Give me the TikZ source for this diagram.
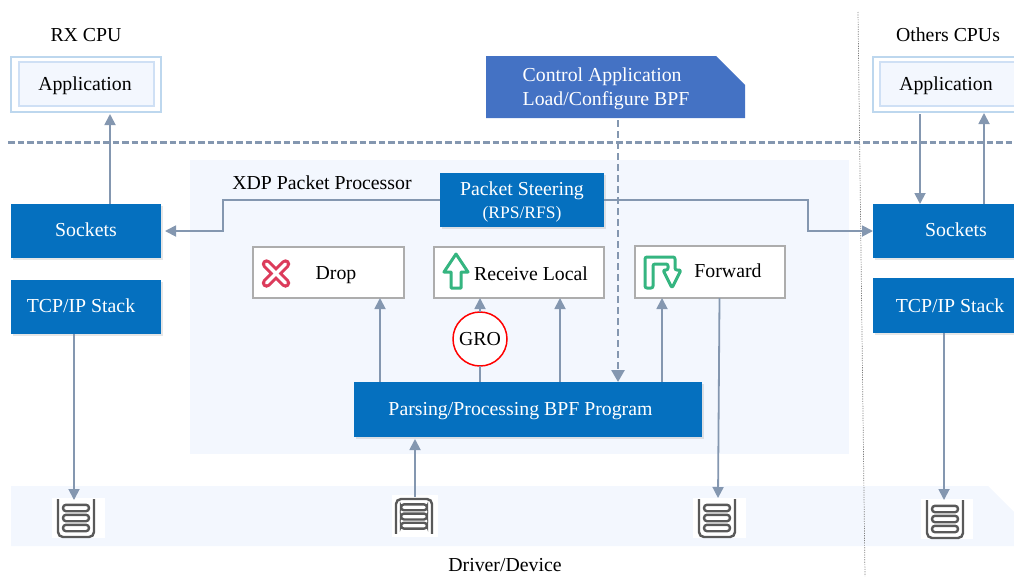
\documentclass[tikz,border=0pt]{standalone}
\usepackage{fontspec}
\setmainfont{Liberation Serif}
\usetikzlibrary{arrows.meta,shadows}
\definecolor{boxblue}{HTML}{0570BF}
\definecolor{ctrlblue}{HTML}{4472C4}
\definecolor{flowgrey}{HTML}{8497B0}
\definecolor{paleblue}{HTML}{F3F7FE}
\definecolor{appedge}{HTML}{BDD7EE}
\definecolor{appinner}{HTML}{CFE0F5}
\definecolor{actgrey}{HTML}{ADADAD}
\definecolor{dropred}{HTML}{DC3B5B}
\definecolor{okgreen}{HTML}{35B580}
\definecolor{ringgrey}{HTML}{595959}
\begin{document}
\begin{tikzpicture}[
		x=1pt,y=-1pt,
		every node/.style = {font=\fontsize{19.8}{24}\selectfont, outer sep=0pt},
		flow/.style = {draw=flowgrey, line width=1.8pt, -{Triangle[length=11pt,width=11pt]}},
		plain/.style = {draw=flowgrey, line width=1.8pt},
		ctrlflow/.style = {flow, line width=2.6pt, dash pattern=on 7pt off 4pt, -{Triangle[length=12pt,width=13pt]}},
		kernel/.style = {fill=boxblue, text=white, drop shadow={shadow xshift=1.5pt, shadow yshift=-1.5pt, opacity=.2}},
		action/.style = {draw=actgrey, fill=white, line width=1.5pt},
		appouter/.style = {draw=appedge, fill=white, line width=1.2pt},
		appbox/.style = {draw=appinner, fill=paleblue, line width=1.2pt},
		ringq/.style = {fill=white},
		redx/.style = {line cap=round, line width=9.5pt, dropred},
		whitex/.style = {line cap=round, line width=3.4pt, white},
		greenicon/.style = {draw=okgreen, line width=3pt, line join=round},
		pics/queue/.style = {code = {
			\draw [ringgrey, line width=2.4pt, rounded corners=5pt] (-18,-19) -- (-18,19) -- (18,19) -- (18,-19);
			\foreach \y in {-10,0,10}
				\draw [ringgrey, line width=2.4pt, rounded corners=3pt] (-13,\y-3.2) rectangle (13,\y+3.2);
		}}
	]
	\useasboundingbox (0,0) rectangle (1014,576);

	% backgrounds
	\fill [paleblue] (190,160) rectangle (849,454);
	\fill [paleblue] (11,486) -- (988,486) -- (1014,512) -- (1014,546) -- (11,546) -- cycle;
	\fill [ctrlblue] (486,56) -- (716,56) -- (745,85) -- (745,118) -- (486,118) -- cycle;
	\draw [flowgrey, line width=2.6pt, dash pattern=on 6.5pt off 3pt] (8,142.5) -- (1014,142.5);
	\draw [gray, line width=.7pt, dash pattern=on 1.2pt off 1.2pt] (858,12) -- (865,576);

	\node (rxcpu) at (86,35) {RX CPU};
	\node (othercpu) at (948,35) {Others CPUs};
	\node (xdp) at (322,183) {XDP Packet Processor};
	\node (driver) at (505,565.5) {Driver/Device};

	\node (appl) [appouter, minimum width=150pt, minimum height=55pt] at (86,84.5) {};
	\node (appli) [appbox, minimum width=135pt, minimum height=44pt] at (86.5,84) {};
	\node (appltxt) at (85,86) {Application};
	\node (appr) [appouter, minimum width=157pt, minimum height=55pt] at (951.5,84.5) {};
	\node (appri) [appbox, minimum width=146pt, minimum height=44pt] at (953,84) {};
	\node (apprtxt) at (946,86) {Application};

	\node (sockl) [kernel, minimum width=150pt, minimum height=54pt] at (86,231) {\raisebox{2pt}{Sockets}};
	\node (tcpl) [kernel, minimum width=150pt, minimum height=54pt] at (86,307) {};
	\node (tcpltxt) [text=white] at (81,306) {TCP/IP Stack};
	\node (sockr) [kernel, minimum width=166pt, minimum height=54pt] at (956,231) {\raisebox{3pt}{Sockets}};
	\node (tcpr) [kernel, minimum width=154pt, minimum height=55pt] at (950,305.5) {TCP/IP Stack};

	\node (ctrl) [text=white, align=left, minimum height=62pt] at (606,89) {Control Application\\Load/Configure BPF};
	\node (steer) [kernel, minimum width=164pt, minimum height=54pt] at (522,200) {};
	\node (steertxt) [text=white, align=center] at (522,201.5) {Packet Steering\\[-1pt]{\fontsize{17.5}{20}\selectfont (RPS/RFS)}};
	\node (parse) [kernel, minimum width=348pt, minimum height=55pt] at (528,409.5) {};
	\node (parsetxt) [text=white] at (520.5,411) {Parsing/Processing BPF Program};

	\node (drop) [action, minimum width=151pt, minimum height=51pt] at (328.5,272.5) {};
	\node (droptxt) at (336,275) {Drop};
	\node (recv) [action, minimum width=170pt, minimum height=51pt] at (519,272.5) {};
	\node (recvtxt) at (531,274) {Receive Local};
	\node (fwd) [action, minimum width=150pt, minimum height=52pt] at (710,272) {};
	\node (fwdtxt) at (728,271) {Forward};
	\node (gro) [circle, draw=red, fill=white, line width=1.5pt, minimum size=54pt, inner sep=0pt] at (480,339) {GRO};

	% action icons
	\draw [redx] (266.5,264) -- (285.5,283) (285.5,264) -- (266.5,283);
	\draw [whitex] (266.5,264) -- (285.5,283) (285.5,264) -- (266.5,283);
	\draw [greenicon] (456,254) -- (468,272) -- (461,272) -- (461,288) -- (451,288) -- (451,272) -- (444,272) -- cycle;
	\draw [greenicon, rounded corners=2pt] (645,288) -- (645,257) -- (675,257) -- (675,270) -- (681,270) -- (672,288) -- (663,270) -- (668,270) -- (668,264) -- (653,264) -- (653,288) -- cycle;

	% ring queues
	\node (q1) [ringq, minimum width=53pt, minimum height=40pt] at (78.5,518) {};
	\node (q2) [ringq, minimum width=46pt, minimum height=42pt] at (415,516) {};
	\node (q3) [ringq, minimum width=53pt, minimum height=40pt] at (719.5,518) {};
	\node (q4) [ringq, minimum width=52pt, minimum height=40pt] at (947,519) {};
	\pic at (76,518) {queue};
	\pic [yscale=-.92] at (414,516.5) {queue};
	\pic at (717,518) {queue};
	\pic at (945,519) {queue};

	\coordinate (q1in) at (74,500);
	\coordinate (q2out) at (415,497);
	\coordinate (q3in) at (718,498);
	\coordinate (q4in) at (944,500);
	\coordinate (sockup) at (110,204);
	\coordinate (rdown) at (920,114);
	\coordinate (rup) at (984,204);
	\coordinate (ddrop) at (380,382);
	\coordinate (drecv) at (560,382);
	\coordinate (dfwd) at (662,382);
	\coordinate (dctl) at (618,382);

	\path [flow, shorten >=2pt] (sockup) -- (sockup |- appl.south);
	\path [flow] (rdown) -- (rdown |- sockr.north);
	\path [flow, shorten >=1pt] (rup) -- (rup |- appr.south);
	\path [flow] (q1in |- tcpl.south) -- (q1in);
	\path [flow] (q4in |- tcpr.south) -- (q4in);
	\path [flow, shorten >=2pt] (q2out) -- (q2out |- parse.south);
	\path [flow] ([xshift=9.5pt]fwd.south) -- (q3in);
	\path [flow, shorten >=4pt] (steer.west) -- (223,200) |- (sockl.east);
	\path [flow] (steer.east) -- (808,200) |- (sockr.west);
	\path [flow] (ddrop) -- (ddrop |- drop.south);
	\path [flow] (drecv) -- (drecv |- recv.south);
	\path [flow] (dfwd) -- (dfwd |- fwd.south);
	\path [plain] (gro.south |- parse.north) -- (gro.south);
	\path [flow] (gro.north) -- (gro.north |- recv.south);
	\path [ctrlflow] (dctl |- ctrl.south) -- (dctl);
\end{tikzpicture}
\end{document}
